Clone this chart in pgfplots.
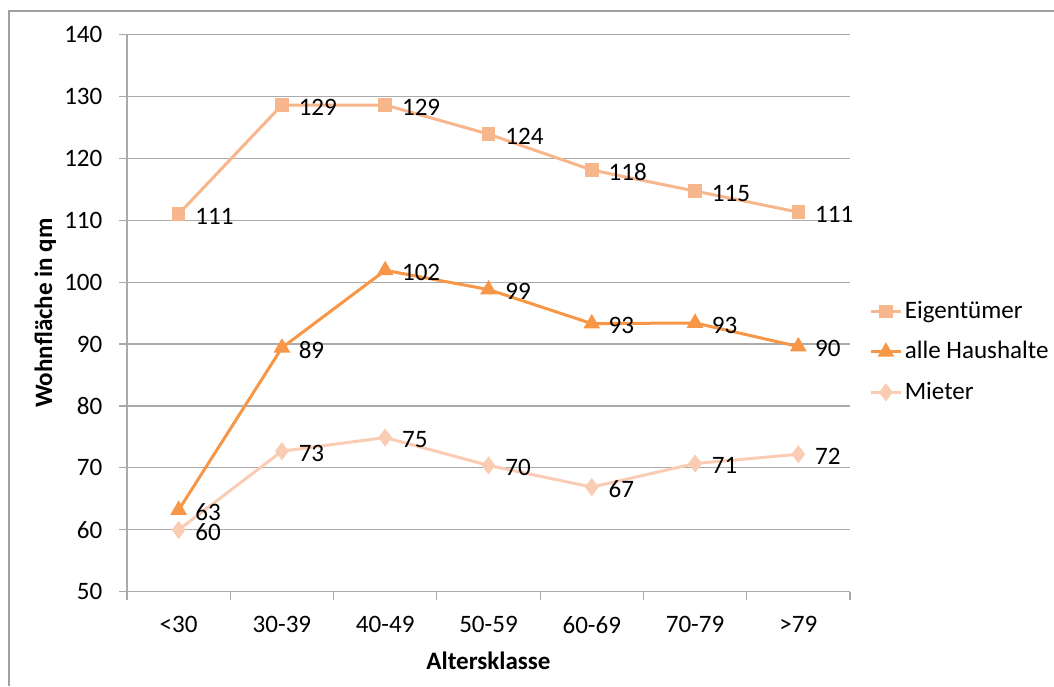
\documentclass[border=0pt]{standalone}
\usepackage{fontspec}
\setmainfont{Carlito}
\usepackage{pgfplots}
\pgfplotsset{compat=1.18}

\definecolor{eigen}{RGB}{248,182,140}
\definecolor{alle}{RGB}{247,150,70}
\definecolor{mieter}{RGB}{251,204,180}
\definecolor{gridgray}{RGB}{170,170,170}
\definecolor{framegray}{RGB}{160,160,160}

\newcommand{\chartfont}{\fontsize{18.8}{22.5}\selectfont}

\begin{document}
\begin{tikzpicture}
\chartfont
\useasboundingbox (0,0) rectangle (790.5pt,514.5pt);
% chart frame (top and left edges)
\draw[framegray, line width=1.2pt] (6.75pt,0pt) -- (6.75pt,506.25pt) -- (790.5pt,506.25pt);
\begin{axis}[
  at={(95.25pt,70.7pt)}, anchor=south west,
  scale only axis,
  width=542.25pt, height=418pt,
  xmin=-0.5, xmax=6.5, ymin=50, ymax=140,
  ytick={50,60,...,140},
  xtick={0,...,6},
  xticklabels={{<30},{30-39},{40-49},{50-59},{60-69},{70-79},{>79}},
  minor xtick={-0.5,0.5,...,6.5},
  major x tick style={draw=none},
  minor tick length=6pt,
  major tick length=6pt,
  tick align=outside,
  axis x line*=bottom, axis y line*=left,
  axis line style={gridgray, line width=0.9pt, -},
  tick style={gridgray, line width=0.9pt},
  ymajorgrids, grid style={gridgray, line width=0.9pt},
  font=\chartfont,
  tick label style={font=\chartfont},
  yticklabel style={xshift=-6pt},
  xticklabel style={yshift=-6pt},
  /pgf/number format/assume math mode=true,
  xlabel={\bfseries Altersklasse},
  ylabel={\bfseries Wohnfläche in qm},
  xlabel style={at={(axis description cs:0.5,-0.124)}, anchor=center},
  ylabel style={at={(axis description cs:-0.113,0.5)}, anchor=center, rotate=0},
  legend style={at={(1.027,0.527)}, anchor=north west, draw=none, fill=none,
    font=\chartfont, row sep=10.5pt, inner sep=0pt,
    cells={anchor=west}},
  legend image code/.code={%
    \draw[mark repeat=2, mark phase=2] plot coordinates {(0pt,0pt) (11pt,0pt) (22pt,0pt)};},
  every axis plot/.append style={line width=2.25pt},
  nodes near coords,
  point meta=y,
  nodes near coords style={font=\chartfont, text=black, anchor=west, inner sep=1pt,
    xshift=10.5pt, yshift=-1.5pt,
    /pgf/number format/.cd, fixed, precision=0, assume math mode=true},
  clip=false,
]
\addplot[color=eigen, mark=square*, mark size=4pt, mark options={solid}] coordinates {
  (0,111.0) (1,128.6) (2,128.6) (3,123.9) (4,118.1) (5,114.7) (6,111.3)};
\addlegendentry{Eigentümer}
\addplot[color=alle, mark=triangle*, mark size=5pt, mark options={solid}] coordinates {
  (0,63.2) (1,89.4) (2,101.9) (3,98.8) (4,93.3) (5,93.4) (6,89.6)};
\addlegendentry{alle Haushalte}
\addplot[color=mieter, mark=diamond*, mark size=5pt, mark options={solid}] coordinates {
  (0,60.0) (1,72.7) (2,74.9) (3,70.4) (4,66.9) (5,70.7) (6,72.2)};
\addlegendentry{Mieter}
\end{axis}
\end{tikzpicture}
\end{document}
